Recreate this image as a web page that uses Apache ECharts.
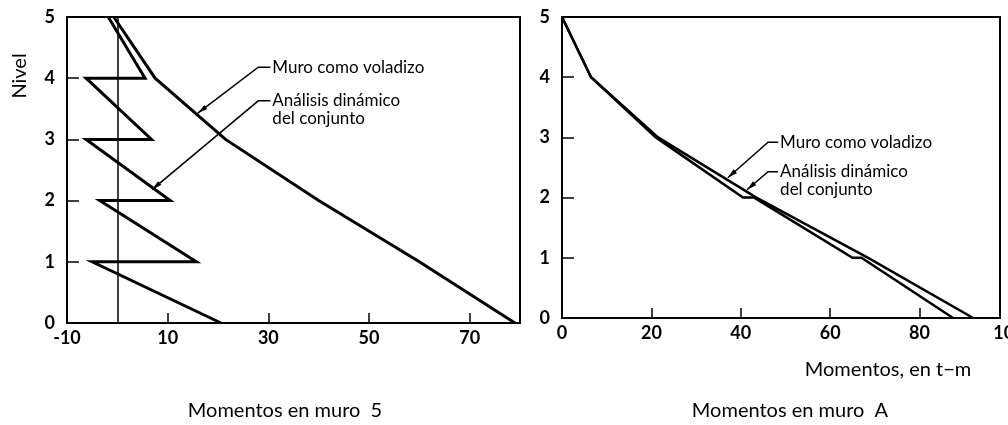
<!DOCTYPE html>
<html><head><meta charset="utf-8">
<script src="https://cdn.jsdelivr.net/npm/echarts@6/dist/echarts.min.js"></script>
<style>html,body{margin:0;padding:0;background:#fff}#c{width:1008px;height:425px}</style>
</head><body><div id="c"></div>
<script>
// ---- data ----
const yTickLabels = [0, 1, 2, 3, 4, 5];
const yTickMarks = [1, 2, 3, 4];
const leftXLabels = [-10, 10, 30, 50, 70];
const leftXTickMarks = [10, 30, 50, 70];
const rightXLabels = [0, 20, 40, 60, 80];
const rightXTickMarks = [20, 40, 60, 80];
const rightXExtraLabel = 100;

// Muro 5
const m5VoladizoX = [-0.7, 7.5, 21.5, 40, 60, 79];
const m5VoladizoY = [5, 4, 3, 2, 1, 0];
const m5DinamicoX = [-1.8, 5.5, -6.2, 6.8, -6.2, 10.5, -3.5, 15.7, -5.0, 20.6];
const m5DinamicoY = [5, 4, 4, 3, 3, 2, 2, 1, 1, 0];
const m5ZeroLine = 0;

// Muro A
const mAVoladizoX = [0, 6.5, 21.5, 43.5, 68.5, 92];
const mAVoladizoY = [5, 4, 3, 2, 1, 0];
const mADinamicoX = [0, 6.5, 21, 40.5, 43, 65, 67, 87.5];
const mADinamicoY = [5, 4, 3, 2, 2, 1, 1, 0];

const FONT = 'Lato';
const zip = (xs, ys) => xs.map((x, i) => [x, ys[i]]);

const chart = echarts.init(document.getElementById('c'), null, {renderer: 'canvas'});

function xAxisCfg(grid, min, max, labels, ticks) {
  return {
    type: 'value', gridIndex: grid, min: min, max: max,
    axisLine: {show: true, onZero: false, lineStyle: {color: '#000', width: 2}},
    axisTick: {show: true, inside: true, length: 10, customValues: ticks, lineStyle: {color: '#000', width: 1.5}},
    axisLabel: {show: true, customValues: labels, margin: 6, color: '#000', fontFamily: FONT, fontSize: 18, fontWeight: 'bold'},
    splitLine: {show: false}
  };
}
function yAxisCfg(grid) {
  return {
    type: 'value', gridIndex: grid, min: 0, max: 5, interval: 1,
    axisLine: {show: true, onZero: false, lineStyle: {color: '#000', width: 2}},
    axisTick: {show: true, inside: true, length: 12, customValues: yTickMarks, lineStyle: {color: '#000', width: 1.5}},
    axisLabel: {show: true, customValues: yTickLabels, margin: 12, color: '#000', fontFamily: FONT, fontSize: 18, fontWeight: 'bold'},
    splitLine: {show: false}
  };
}
function lineSeries(x, y, data, width, extra) {
  return Object.assign({
    type: 'line', xAxisIndex: x, yAxisIndex: y, data: data, showSymbol: false, symbol: 'none',
    silent: true, animation: false,
    lineStyle: {color: '#000', width: width, join: 'miter'}
  }, extra || {});
}

chart.setOption({
  animation: false,
  backgroundColor: '#fff',
  grid: [
    {left: 67, top: 17, width: 453, height: 306, show: true, borderColor: '#000', borderWidth: 2, backgroundColor: 'transparent'},
    {left: 562, top: 17, width: 438, height: 301, show: true, borderColor: '#000', borderWidth: 2, backgroundColor: 'transparent'}
  ],
  xAxis: [
    xAxisCfg(0, -10, 80, leftXLabels, leftXTickMarks),
    xAxisCfg(1, 0, 98, rightXLabels, rightXTickMarks)
  ],
  yAxis: [yAxisCfg(0), yAxisCfg(1)],
  series: [
    lineSeries(0, 0, zip(m5VoladizoX, m5VoladizoY), 3, {
      markLine: {silent: true, symbol: 'none', label: {show: false},
        lineStyle: {color: '#000', width: 1.5, type: 'solid'},
        data: [{xAxis: m5ZeroLine}]}
    }),
    lineSeries(0, 0, zip(m5DinamicoX, m5DinamicoY), 3),
    lineSeries(1, 1, zip(mAVoladizoX, mAVoladizoY), 2.5),
    lineSeries(1, 1, zip(mADinamicoX, mADinamicoY), 2.5)
  ]
});

// ---- annotations (in data coordinates) ----
const annotations = [
  {grid: 0, lines: ['Muro como voladizo'], textAt: [30.8, 4.18], elbow: [28.0, 4.18], tip: [16.0, 3.43]},
  {grid: 0, lines: ['Análisis dinámico', 'del conjunto'], textAt: [30.8, 3.63], elbow: [28.0, 3.63], tip: [6.9, 2.18]},
  {grid: 1, lines: ['Muro como voladizo'], textAt: [48.8, 2.92], elbow: [46.1, 2.92], tip: [37.1, 2.33]},
  {grid: 1, lines: ['Análisis dinámico', 'del conjunto'], textAt: [48.8, 2.43], elbow: [46.1, 2.43], tip: [41.4, 2.13]}
];

const g = [];
const LH = 18;
annotations.forEach(a => {
  const t = chart.convertToPixel({gridIndex: a.grid}, a.textAt);
  const e = chart.convertToPixel({gridIndex: a.grid}, a.elbow);
  const p = chart.convertToPixel({gridIndex: a.grid}, a.tip);
  g.push({type: 'polyline', shape: {points: [[t[0] - 2, e[1]], e, p]}, style: {stroke: '#000', lineWidth: 1.5, fill: null}, silent: true});
  const dx = p[0] - e[0], dy = p[1] - e[1];
  const L = Math.hypot(dx, dy), ux = dx / L, uy = dy / L;
  const bx = p[0] - ux * 10, by = p[1] - uy * 10;
  g.push({type: 'polygon', shape: {points: [[p[0], p[1]], [bx - uy * 2.5, by + ux * 2.5], [bx + uy * 2.5, by - ux * 2.5]]}, style: {fill: '#000'}, silent: true});
  a.lines.forEach((s, i) => {
    g.push({type: 'text', x: t[0], y: t[1] + i * LH, silent: true,
      style: {text: s, fill: '#000', font: '17px ' + FONT, textVerticalAlign: 'middle', textAlign: 'left'}});
  });
});

// extra right-axis label 100 (beyond frame, cut by page edge)
const p100 = chart.convertToPixel({xAxisIndex: 1}, rightXExtraLabel);
const p0 = chart.convertToPixel({gridIndex: 1}, [0, 0]);
g.push({type: 'text', x: p100, y: p0[1] + 6, silent: true,
  style: {text: String(rightXExtraLabel), fill: '#000', font: 'bold 18px ' + FONT, textAlign: 'center', textVerticalAlign: 'top'}});

// titles
g.push({type: 'text', x: 20, y: 76, rotation: Math.PI / 2, silent: true,
  style: {text: 'Nivel', fill: '#000', font: '20px ' + FONT, textAlign: 'center', textVerticalAlign: 'middle'}});
g.push({type: 'text', x: 888, y: 370, silent: true,
  style: {text: 'Momentos, en t−m', fill: '#000', font: '20px ' + FONT, textAlign: 'center', textVerticalAlign: 'middle'}});
g.push({type: 'text', x: 285, y: 411, silent: true,
  style: {text: 'Momentos en muro  5', fill: '#000', font: '20px ' + FONT, textAlign: 'center', textVerticalAlign: 'middle'}});
g.push({type: 'text', x: 790, y: 411, silent: true,
  style: {text: 'Momentos en muro  A', fill: '#000', font: '20px ' + FONT, textAlign: 'center', textVerticalAlign: 'middle'}});

chart.setOption({graphic: {elements: g}});
</script>
</body></html>
